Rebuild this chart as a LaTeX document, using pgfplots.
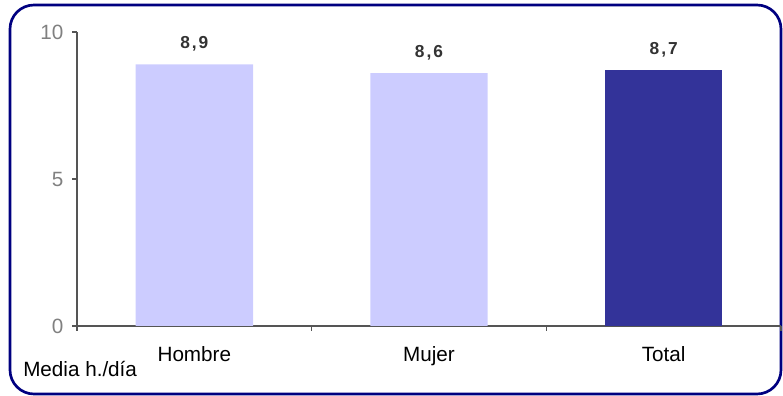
\documentclass[border=0pt]{standalone}
\usepackage{fontspec}
\setmainfont{Liberation Sans}
\usepackage{pgfplots}
\pgfplotsset{compat=1.18}
\definecolor{lightbar}{HTML}{CCCCFF}
\definecolor{darkbar}{HTML}{333399}
\definecolor{frameblue}{HTML}{000080}
\definecolor{axisgray}{HTML}{555555}
\definecolor{ticktext}{HTML}{808080}
\definecolor{valtext}{HTML}{333333}

\begin{document}
\begin{tikzpicture}[x=0.75pt,y=0.75pt,font=\fontsize{15.5}{18}\selectfont]
\path[use as bounding box] (0,0) rectangle (783,396);
\draw[frameblue, line width=2pt, rounded corners=18pt] (10,2) rectangle (781,391);

\begin{axis}[
    at={(57.75pt,52.5pt)}, anchor=south west,
    scale only axis,
    width=528pt, height=220.5pt,
    xmin=-0.5, xmax=2.5,
    ymin=0, ymax=10,
    axis x line=bottom, axis y line=left,
    axis line style={-, axisgray, line width=0.8pt},
    ybar, bar width=0.5, bar shift=0pt,
    xtick={0,1,2},
    xticklabels={Hombre,Mujer,Total},
    major x tick style={draw=none},
    minor xtick={-0.5,0.5,1.5,2.5},
    minor x tick style={axisgray, line width=0.8pt},
    minor tick length=3.75pt,
    ytick={0,5,10},
    major y tick style={axisgray, line width=0.8pt},
    major tick length=3.75pt,
    tick align=outside,
    y tick label style={ticktext, xshift=-3pt, /pgf/number format/assume math mode=true},
    x tick label style={black, yshift=-8pt},
    nodes near coords={\bfseries\pgfmathprintnumber[fixed,precision=1,fixed zerofill,use comma,assume math mode=true,set decimal separator={\kern1.5pt,\kern1.5pt}]{\pgfplotspointmeta}},
    every node near coord/.append style={valtext, anchor=base, inner sep=0pt, yshift=12pt, font=\fontsize{13}{15}\selectfont},
    clip=false,
]
\addplot[fill=lightbar, draw=none] coordinates {(0,8.9) (1,8.6)};
\addplot[fill=darkbar, draw=none] coordinates {(2,8.7)};
\end{axis}

\node[anchor=base west, inner sep=0pt] at (23,19) {Media h./día};
\end{tikzpicture}
\end{document}
